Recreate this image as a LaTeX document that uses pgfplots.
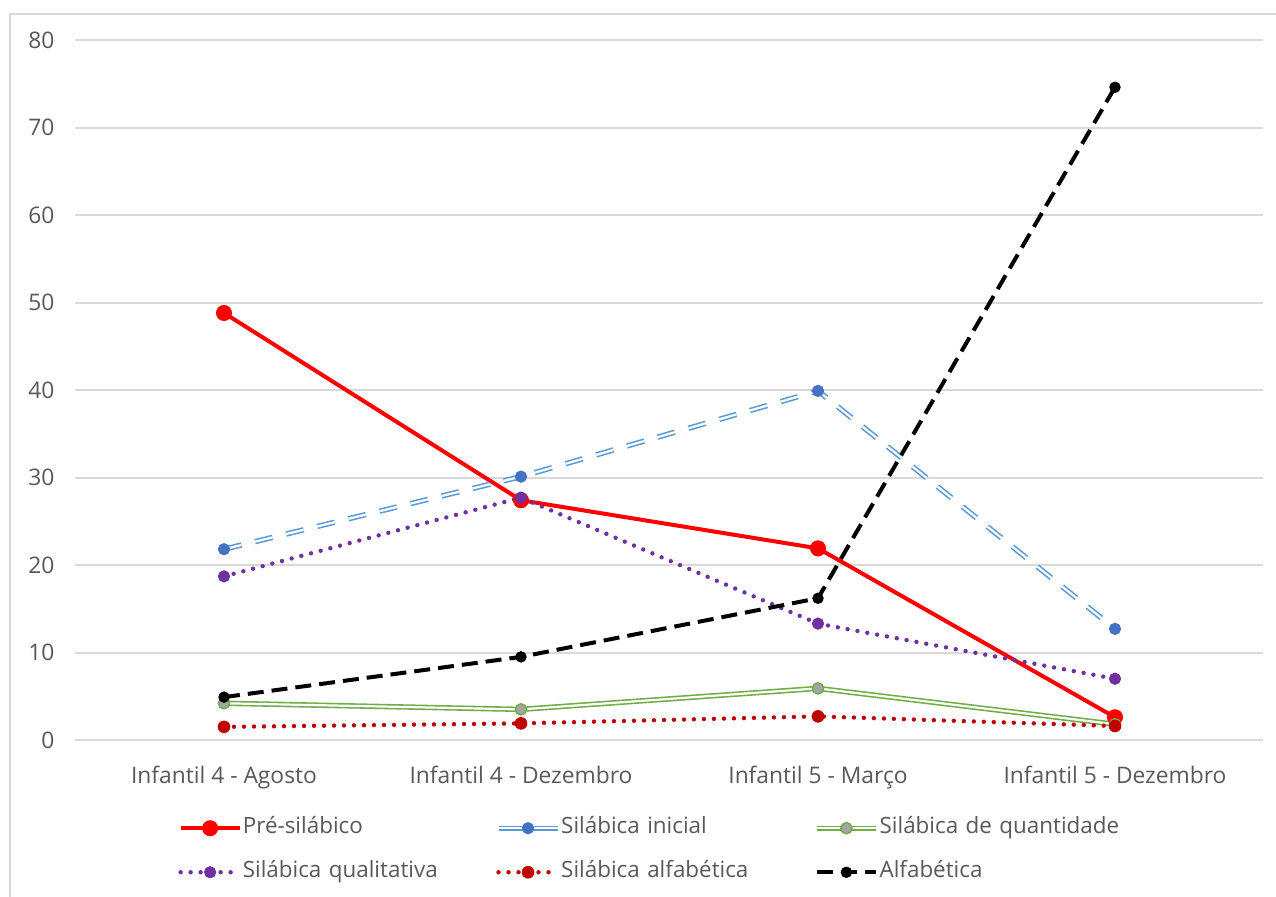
\documentclass[border=0pt]{standalone}
\usepackage{pgfplots}
\pgfplotsset{compat=1.18}
\usepackage{fontspec}
\setmainfont{Open Sans}
\definecolor{txt}{HTML}{595959}
\definecolor{grd}{HTML}{D9D9D9}
\definecolor{cred}{HTML}{FF0000}
\definecolor{cblue}{HTML}{5B9BD5}
\definecolor{cbluem}{HTML}{4472C4}
\definecolor{cgreen}{HTML}{70AD47}
\definecolor{cgray}{HTML}{A5A5A5}
\definecolor{cpurple}{HTML}{7030A0}
\definecolor{cdred}{HTML}{C00000}
\begin{document}
\begin{tikzpicture}[x=1pt,y=1pt]
\path[use as bounding box] (0,0) rectangle (638,448);
\fill[white] (0,0) rectangle (638,448);
\draw[grd, line width=1pt] (5,-5) -- (5,441) -- (645,441);
\begin{axis}[
  at={(37.75pt,78pt)}, anchor=south west,
  scale only axis, width=594pt, height=350pt,
  xmin=-0.5, xmax=3.5, ymin=0, ymax=80,
  xtick={0,1,2,3},
  xticklabels={Infantil 4 - Agosto, Infantil 4 - Dezembro, Infantil 5 - Março, Infantil 5 - Dezembro},
  ytick={0,10,...,80},
  major tick length=0pt,
  axis line style={draw=none},
  ymajorgrids, major grid style={draw=grd, line width=1pt},
  tick label style={text=txt, font=\fontsize{11.4}{13}\selectfont},
  /pgf/number format/assume math mode=true,
  yticklabel style={xshift=-7pt},
  xticklabel style={yshift=-9.5pt},
  legend columns=3,
  legend cell align=left,
  legend style={at={(0.0863,-0.1575)}, anchor=west, draw=none, fill=none,
    inner sep=0pt, font=\fontsize{11.2}{13}\selectfont, text=txt,
    row sep=11.5pt,
    nodes={text width=126.5pt, inner sep=0pt, align=left, text height=8pt, text depth=2.5pt},
    /tikz/every odd column/.append style={column sep=0.5pt}},
  legend image code/.code={\draw[mark repeat=2,mark phase=2] plot coordinates {(0pt,0pt)(14.75pt,0pt)(29.5pt,0pt)};},
  clip=false,
]
\addplot[cred, line width=2pt, mark=*, mark size=3pt, mark options={fill=cred, draw=cred}]
 coordinates {(0,48.8)(1,27.4)(2,21.9)(3,2.6)};
\addlegendentry{Pré-silábico}
\addplot[cblue, line width=0.8pt, double=white, double distance=1.1pt, dash pattern=on 9pt off 7pt,
  mark=*, mark size=2.8pt, mark options={solid, fill=cbluem, draw=cbluem, line width=0.5pt},
  legend image post style={dash pattern=on 13pt off 3.5pt}]
 coordinates {(0,21.8)(1,30.1)(2,39.9)(3,12.7)};
\addlegendentry{Silábica inicial}
\addplot[cgreen, line width=0.8pt, double=white, double distance=1.1pt,
  mark=*, mark size=2.8pt, mark options={solid, fill=cgray, draw=cgreen, line width=0.75pt}]
 coordinates {(0,4.2)(1,3.5)(2,5.9)(3,1.8)};
\addlegendentry{Silábica de quantidade}
\addplot[cpurple, line width=2.2pt, line cap=round, dash pattern=on 0pt off 5pt,
  mark=*, mark size=2.8pt, mark options={solid, fill=cpurple, draw=cpurple, line width=0.5pt}]
 coordinates {(0,18.7)(1,27.7)(2,13.3)(3,7.0)};
\addlegendentry{Silábica qualitativa}
\addplot[cdred, line width=2.2pt, line cap=round, dash pattern=on 0pt off 5pt,
  mark=*, mark size=2.9pt, mark options={solid, fill=cdred, draw=cdred, line width=0.5pt}]
 coordinates {(0,1.5)(1,1.9)(2,2.7)(3,1.6)};
\addlegendentry{Silábica alfabética}
\addplot[black, line width=2pt, dash pattern=on 8pt off 4pt,
  mark=*, mark size=2.6pt, mark options={solid, fill=black, draw=black, line width=0.5pt}]
 coordinates {(0,4.9)(1,9.5)(2,16.2)(3,74.6)};
\addlegendentry{Alfabética}
\end{axis}
\end{tikzpicture}
\end{document}
